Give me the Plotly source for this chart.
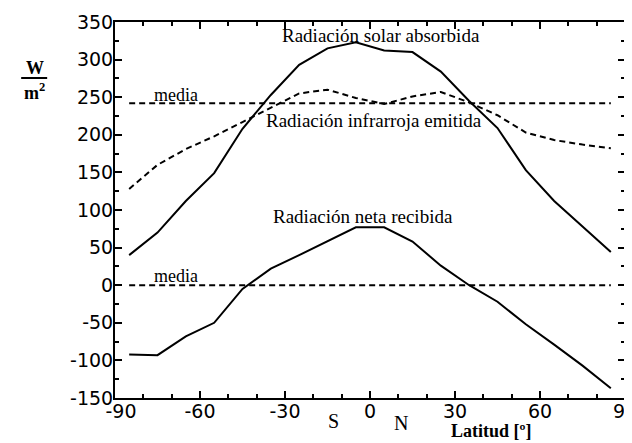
import plotly.graph_objects as go

# Data
lat = [-85, -75, -65, -55, -45, -35, -25, -15, -5, 5, 15, 25, 35, 45, 55, 65, 75, 85]
solar_absorbida = [40, 70, 112, 149, 208, 253, 293, 315, 323, 312, 310, 284, 245, 209, 153, 112, 78, 44]
infrarroja_emitida = [128, 160, 181, 198, 217, 236, 255, 260, 249, 241, 251, 257, 243, 226, 203, 193, 187, 182]
neta_recibida = [-92, -93, -68, -50, -5, 22, 40, 58, 77, 77, 58, 26, 0, -22, -52, -79, -107, -137]
media_lat = [-85, 85]
media_infrarroja = 242
media_neta = 0

x_ticks = [-90, -60, -30, 0, 30, 60, 90]
x_ticktext = ["\u00a0\u00a0-90", "-60", "-30", "0", "30", "60", "90"]
y_ticks = [-150, -100, -50, 0, 50, 100, 150, 200, 250, 300, 350]
y_ticktext = ["-150", "-100", "-50", "0", "50", "100", "150", "200", "250", "300", "350"]

fig = go.Figure()
solid = dict(color="black", width=2)
dashed = dict(color="black", width=2, dash="6px,4px")

fig.add_trace(go.Scatter(x=lat, y=solar_absorbida, mode="lines", line=solid))
fig.add_trace(go.Scatter(x=lat, y=infrarroja_emitida, mode="lines", line=dashed))
fig.add_trace(go.Scatter(x=lat, y=neta_recibida, mode="lines", line=solid))
fig.add_trace(go.Scatter(x=media_lat, y=[media_infrarroja] * 2, mode="lines", line=dashed))
fig.add_trace(go.Scatter(x=media_lat, y=[media_neta] * 2, mode="lines", line=dashed))

serif = "Liberation Serif"
ann = []
def label(text, x, y, size=19, bold=False, xref="x", yref="y"):
    t = f"<b>{text}</b>" if bold else text
    ann.append(dict(text=t, x=x, y=y, xref=xref, yref=yref, showarrow=False,
                    xanchor="center", yanchor="middle",
                    font=dict(family=serif, size=size, color="black")))

label("Radiación solar absorbida", 3.9, 332)
label("Radiación infrarroja emitida", 1.4, 219)
label("Radiación neta recibida", -2.5, 92)
label("media", -68.5, 253, size=18)
label("media", -68.5, 12, size=18)
label("S", 0.429, -0.061, size=20, xref="paper", yref="paper")
label("N", 0.561, -0.066, size=20, xref="paper", yref="paper")
label("Latitud [º]", 0.737, -0.088, size=18, bold=True, xref="paper", yref="paper")
label("W", -0.157, 0.878, size=18, bold=True, xref="paper", yref="paper")
label("m<sup>2</sup>", -0.157, 0.814, size=18, bold=True, xref="paper", yref="paper")

fig.add_shape(type="line", xref="paper", yref="paper",
              x0=-0.184, x1=-0.133, y0=0.851, y1=0.851,
              line=dict(color="black", width=2))

axis_common = dict(
    showline=True, linecolor="black", linewidth=2, mirror="ticks",
    ticks="inside", ticklen=7, tickwidth=2, tickcolor="black",
    showgrid=False, zeroline=False, automargin=False,
    tickfont=dict(family="DejaVu Sans", size=19, color="black"),
)

fig.update_xaxes(range=[-90, 90], tickvals=x_ticks, ticktext=x_ticktext,
                 ticklabelstandoff=-5,
                 minor=dict(dtick=10, ticks="inside", ticklen=4, tickwidth=1.5, tickcolor="black"),
                 **axis_common)
fig.update_yaxes(range=[-150, 350], tickvals=y_ticks, ticktext=y_ticktext,
                 ticklabelstandoff=-4,
                 minor=dict(dtick=25, ticks="inside", ticklen=4, tickwidth=1.5, tickcolor="black"),
                 **axis_common)

fig.update_layout(
    width=632, height=443,
    margin=dict(l=107, r=15, t=14, b=53),
    paper_bgcolor="white", plot_bgcolor="white",
    showlegend=False,
    annotations=ann,
)

fig.write_html("out.html")
